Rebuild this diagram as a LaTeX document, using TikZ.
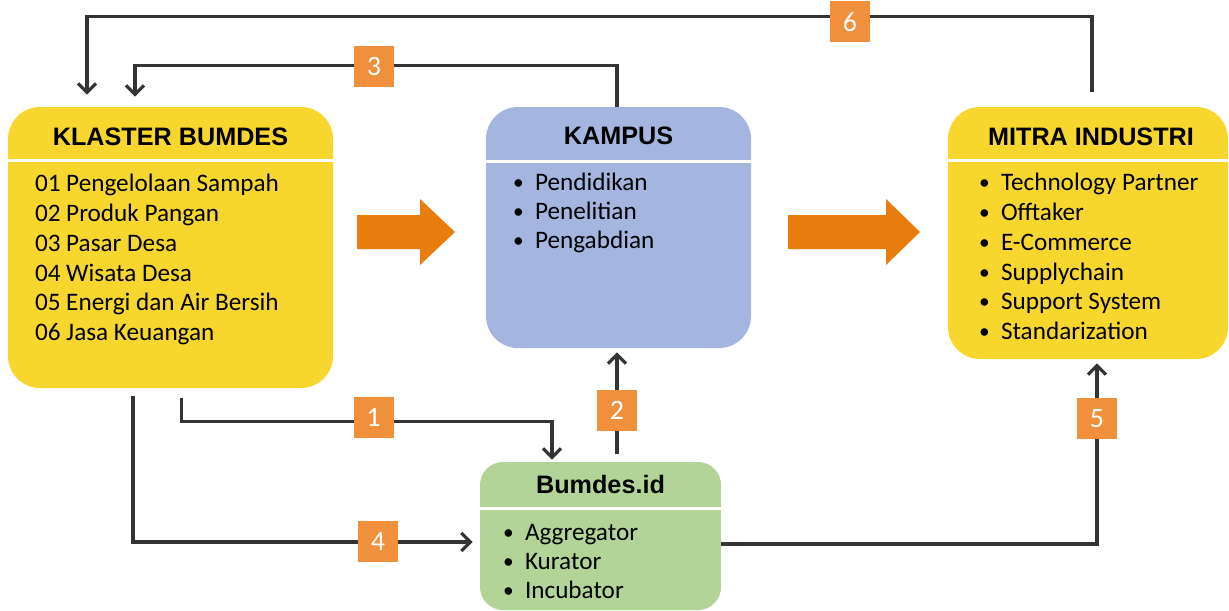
\documentclass[tikz,border=0pt]{standalone}
\usepackage{fontspec}
\usepackage{graphicx}
\setmainfont{Carlito}
\newfontfamily\headfont{Liberation Sans}
\usetikzlibrary{positioning,arrows.meta}

\definecolor{klasteryellow}{RGB}{247,214,46}
\definecolor{kampusblue}{RGB}{164,181,224}
\definecolor{bumdesgreen}{RGB}{178,212,151}
\definecolor{floworange}{RGB}{232,125,13}
\definecolor{tagorange}{RGB}{240,143,60}
\definecolor{linkgray}{RGB}{52,52,52}

\newcommand\dotitem[1]{\makebox[11pt][l]{\raisebox{0.5pt}{\scalebox{0.85}{\textbullet}}}#1}

\begin{document}
\begin{tikzpicture}[
    x=0.5pt, y=-0.5pt,
    panel/.style={draw=none,rounded corners=16pt,inner sep=0pt},
    head/.style={font=\headfont\bfseries\fontsize{12.6}{14}\selectfont,inner sep=0pt,anchor=base},
    entry/.style={font=\fontsize{12.6}{14}\selectfont,inner sep=0pt,anchor=base west},
    divider/.style={white,line width=1.3pt},
    tag/.style={fill=tagorange,text=white,font=\fontsize{14}{14}\selectfont,
        minimum width=20pt,minimum height=20.5pt,inner sep=0pt},
    flow/.style={fill=floworange},
    link/.style={draw=linkgray,line width=1.6pt},
    >={Straight Barb[length=4.5pt,width=9pt]}
]

\useasboundingbox (0,0) rectangle (1229,610);

% panels
\node[panel,fill=klasteryellow,minimum width=162.5pt,minimum height=140.5pt] (klaster) at (170.5,247.5) {};
\node[panel,fill=kampusblue,minimum width=132.5pt,minimum height=120.5pt] (kampus) at (618.5,227.5) {};
\node[panel,fill=klasteryellow,minimum width=140pt,minimum height=126pt] (mitra) at (1088,233) {};
\node[panel,fill=bumdesgreen,rounded corners=11.5pt,minimum width=120.5pt,minimum height=74pt] (bumdes) at (600.5,536) {};

% headings
\node[head] (klaster-title) at ([shift={(0,39)}]klaster.north) {KLASTER BUMDES};
\node[head] (kampus-title) at ([shift={(0,38)}]kampus.north) {KAMPUS};
\node[head] (mitra-title) at ([shift={(3,39)}]mitra.north) {MITRA INDUSTRI};
\node[head] (bumdes-title) at ([shift={(0,32)}]bumdes.north) {Bumdes.id};

\draw[divider] ([shift={(0,54)}]klaster.north west) -- ([shift={(0,54)}]klaster.north east);
\draw[divider] ([shift={(0,55)}]kampus.north west) -- ([shift={(0,55)}]kampus.north east);
\draw[divider] ([shift={(0,54)}]mitra.north west) -- ([shift={(0,54)}]mitra.north east);
\draw[divider] ([shift={(0,47)}]bumdes.north west) -- ([shift={(0,47)}]bumdes.north east);

% lists
\foreach \txt [count=\i] in {01 Pengelolaan Sampah, 02 Produk Pangan, 03 Pasar Desa,
    04 Wisata Desa, 05 Energi dan Air Bersih, 06 Jasa Keuangan}
  \node[entry] (klaster-\i) at ([shift={(27,{85+29.8*(\i-1)})}]klaster.north west) {\txt};

\foreach \txt [count=\i] in {Pendidikan, Penelitian, Pengabdian}
  \node[entry] (kampus-\i) at ([shift={(27,{84+29*(\i-1)})}]kampus.north west) {\dotitem{\txt}};

\foreach \txt [count=\i] in {Technology Partner, Offtaker, E-Commerce, Supplychain,
    Support System, Standarization}
  \node[entry] (mitra-\i) at ([shift={(31,{84+29.8*(\i-1)})}]mitra.north west) {\dotitem{\txt}};

\foreach \txt [count=\i] in {Aggregator, Kurator, Incubator}
  \node[entry] (bumdes-\i) at ([shift={(23,{79+29*(\i-1)})}]bumdes.north west) {\dotitem{\txt}};

% big arrows
\foreach \tail/\base/\tip in {357/420/455, 788/886/920}
  \fill[flow] (\tail,215) -- (\base,215) -- (\base,199) -- (\tip,232)
    -- (\base,265) -- (\base,249) -- (\tail,249) -- cycle;

% connectors
\draw[link,->,shorten <=7.5pt,shorten >=6pt] ([shift={(4,0)}]mitra.north) -- ++(0,-90) -| ([shift={(-83.5,0)}]klaster.north);
\draw[link,->,shorten >=5pt] ([shift={(-1.5,0)}]kampus.north) -- ++(0,-41) -| ([shift={(-35.5,0)}]klaster.north);
\draw[link,->,shorten <=5pt,shorten >=1pt] ([shift={(11,0)}]klaster.south) -- ++(0,33) -| ([shift={(-48.5,0)}]bumdes.north);
\draw[link,->,shorten <=4pt,shorten >=2pt] ([shift={(16.5,0)}]bumdes.north) -- ([shift={(-1.5,0)}]kampus.south);
\draw[link,->,shorten <=4pt,shorten >=3.5pt] ([shift={(-37.5,0)}]klaster.south) |- ([shift={(0,6)}]bumdes.west);
\draw[link,->,shorten >=2pt] ([shift={(0,8)}]bumdes.east) -| ([shift={(9,0)}]mitra.south);

% step numbers
\node[tag] (tag1) at (373.5,417.5) {1};
\node[tag] (tag2) at (617,410.5) {2};
\node[tag] (tag3) at (374,67) {3};
\node[tag] (tag4) at (378,541.5) {4};
\node[tag] (tag5) at (1097,418.5) {5};
\node[tag] (tag6) at (850,22) {6};

\end{tikzpicture}
\end{document}
